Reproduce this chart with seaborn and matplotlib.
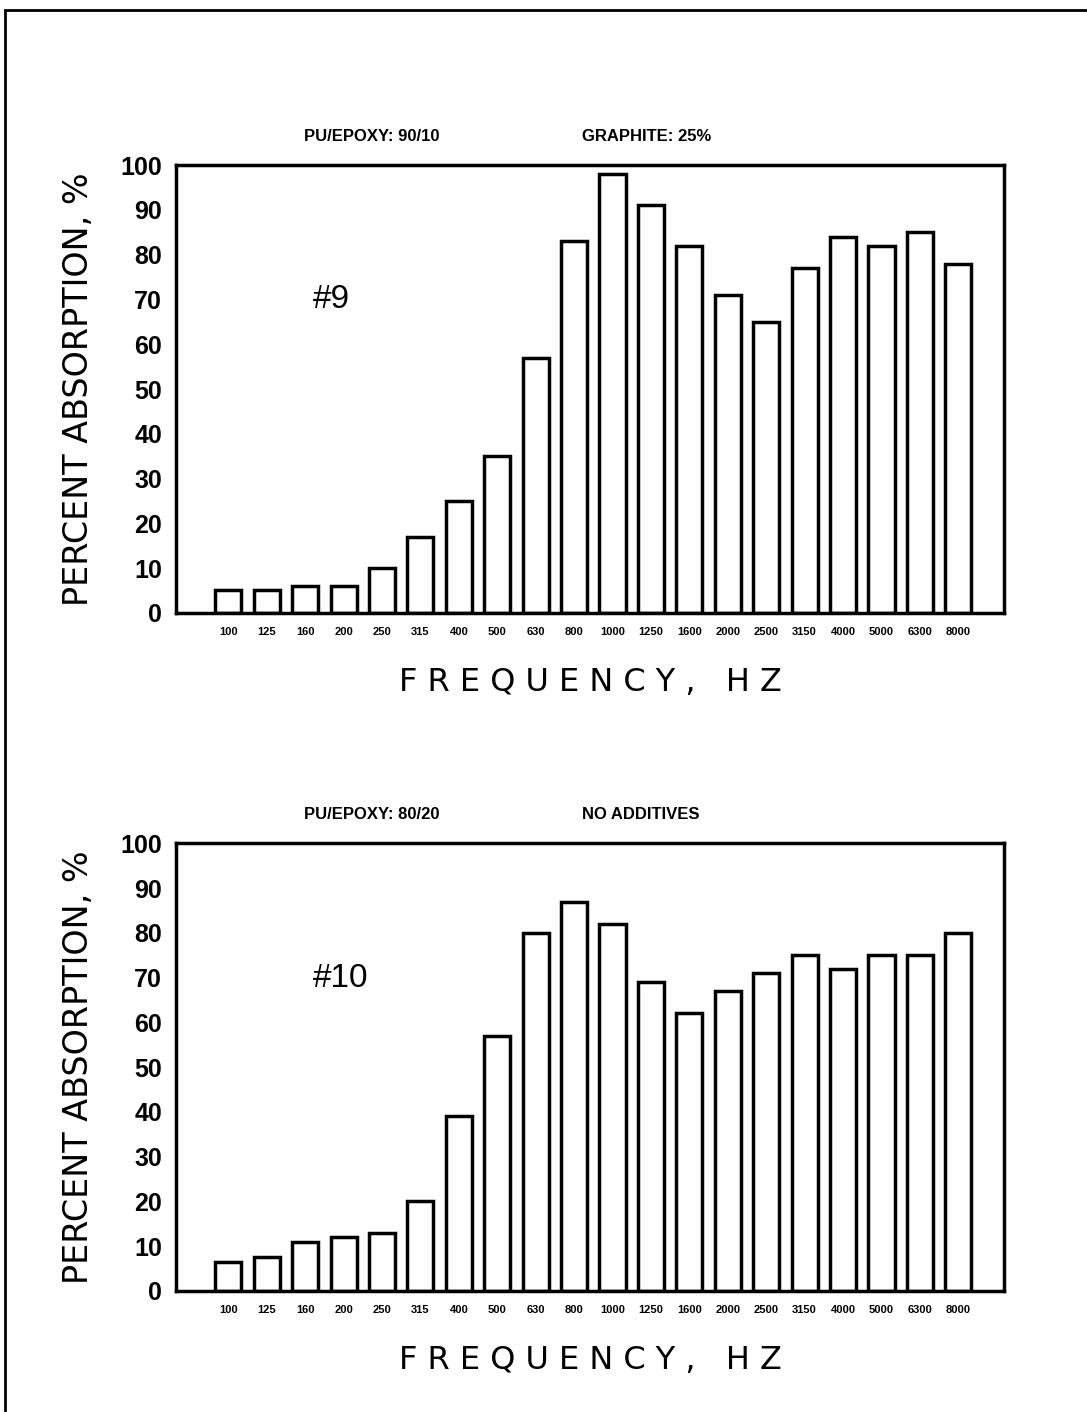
import pandas as pd
import seaborn as sns
import matplotlib.pyplot as plt
from matplotlib.patches import Rectangle

# Frequency bands (Hz) and percent absorption
freqs = ['100', '125', '160', '200', '250', '315', '400', '500', '630', '800',
         '1000', '1250', '1600', '2000', '2500', '3150', '4000', '5000', '6300', '8000']
sample9 = [5, 5, 6, 6, 10, 17, 25, 35, 57, 83,
           98, 91, 82, 71, 65, 77, 84, 82, 85, 78]
sample10 = [6.5, 7.5, 11, 12, 13, 20, 39, 57, 80, 87,
            82, 69, 62, 67, 71, 75, 72, 75, 75, 80]

panels = [
    ('#9', 'PU/EPOXY: 90/10', 'GRAPHITE: 25%', sample9, 0.566),
    ('#10', 'PU/EPOXY: 80/20', 'NO ADDITIVES', sample10, 0.0857),
]
yticks = [0, 10, 20, 30, 40, 50, 60, 70, 80, 90, 100]

sns.set_style('white')
plt.rcParams['font.family'] = ['DejaVu Sans']
plt.rcParams['text.color'] = 'black'
plt.rcParams['axes.labelcolor'] = 'black'
plt.rcParams['xtick.color'] = 'black'
plt.rcParams['ytick.color'] = 'black'
narrow = ['Liberation Sans Narrow', 'Liberation Sans', 'DejaVu Sans']

fig = plt.figure(figsize=(10.87, 14.12), dpi=100)

# scanned page frame
fig.patches.append(Rectangle((0.005, -0.02), 1.1, 1.013, transform=fig.transFigure,
                             fill=False, edgecolor='black', linewidth=2))

for tag, head1, head2, vals, bottom in panels:
    ax = fig.add_axes([0.162, bottom, 0.762, 0.317])
    df = pd.DataFrame({'Frequency': freqs, 'Absorption': vals})
    sns.barplot(data=df, x='Frequency', y='Absorption', order=freqs, ax=ax,
                color='white', edgecolor='black', linewidth=2.5, width=0.68,
                errorbar=None)
    ax.set_xlim(-1.36, 20.2)
    ax.set_ylim(0, 100)
    ax.set_yticks(yticks)
    ax.set_yticklabels([str(t) for t in yticks], family=narrow,
                       fontweight='bold', fontsize=18)
    ax.set_xticks(range(len(freqs)))
    ax.set_xticklabels(freqs, family=narrow, fontweight='bold', fontsize=8)
    ax.tick_params(axis='y', direction='inout', length=12, width=2.5, pad=4)
    ax.tick_params(axis='x', length=0, pad=10)
    for s in ax.spines.values():
        s.set_visible(True)
        s.set_linewidth(2.5)
        s.set_color('black')
    ax.set_xlabel('F R E Q U E N C Y ,   H Z', fontsize=23, labelpad=22)
    ax.set_ylabel('PERCENT ABSORPTION, %', fontsize=24, labelpad=18)
    ax.text(0.165, 0.68, tag, transform=ax.transAxes, fontsize=24,
            family=narrow)
    ax.text(0.155, 1.055, head1, transform=ax.transAxes, fontsize=12,
            fontweight='bold', family=narrow)
    ax.text(0.49, 1.055, head2, transform=ax.transAxes, fontsize=12,
            fontweight='bold', family=narrow)

fig.savefig('out.png', dpi=100)
